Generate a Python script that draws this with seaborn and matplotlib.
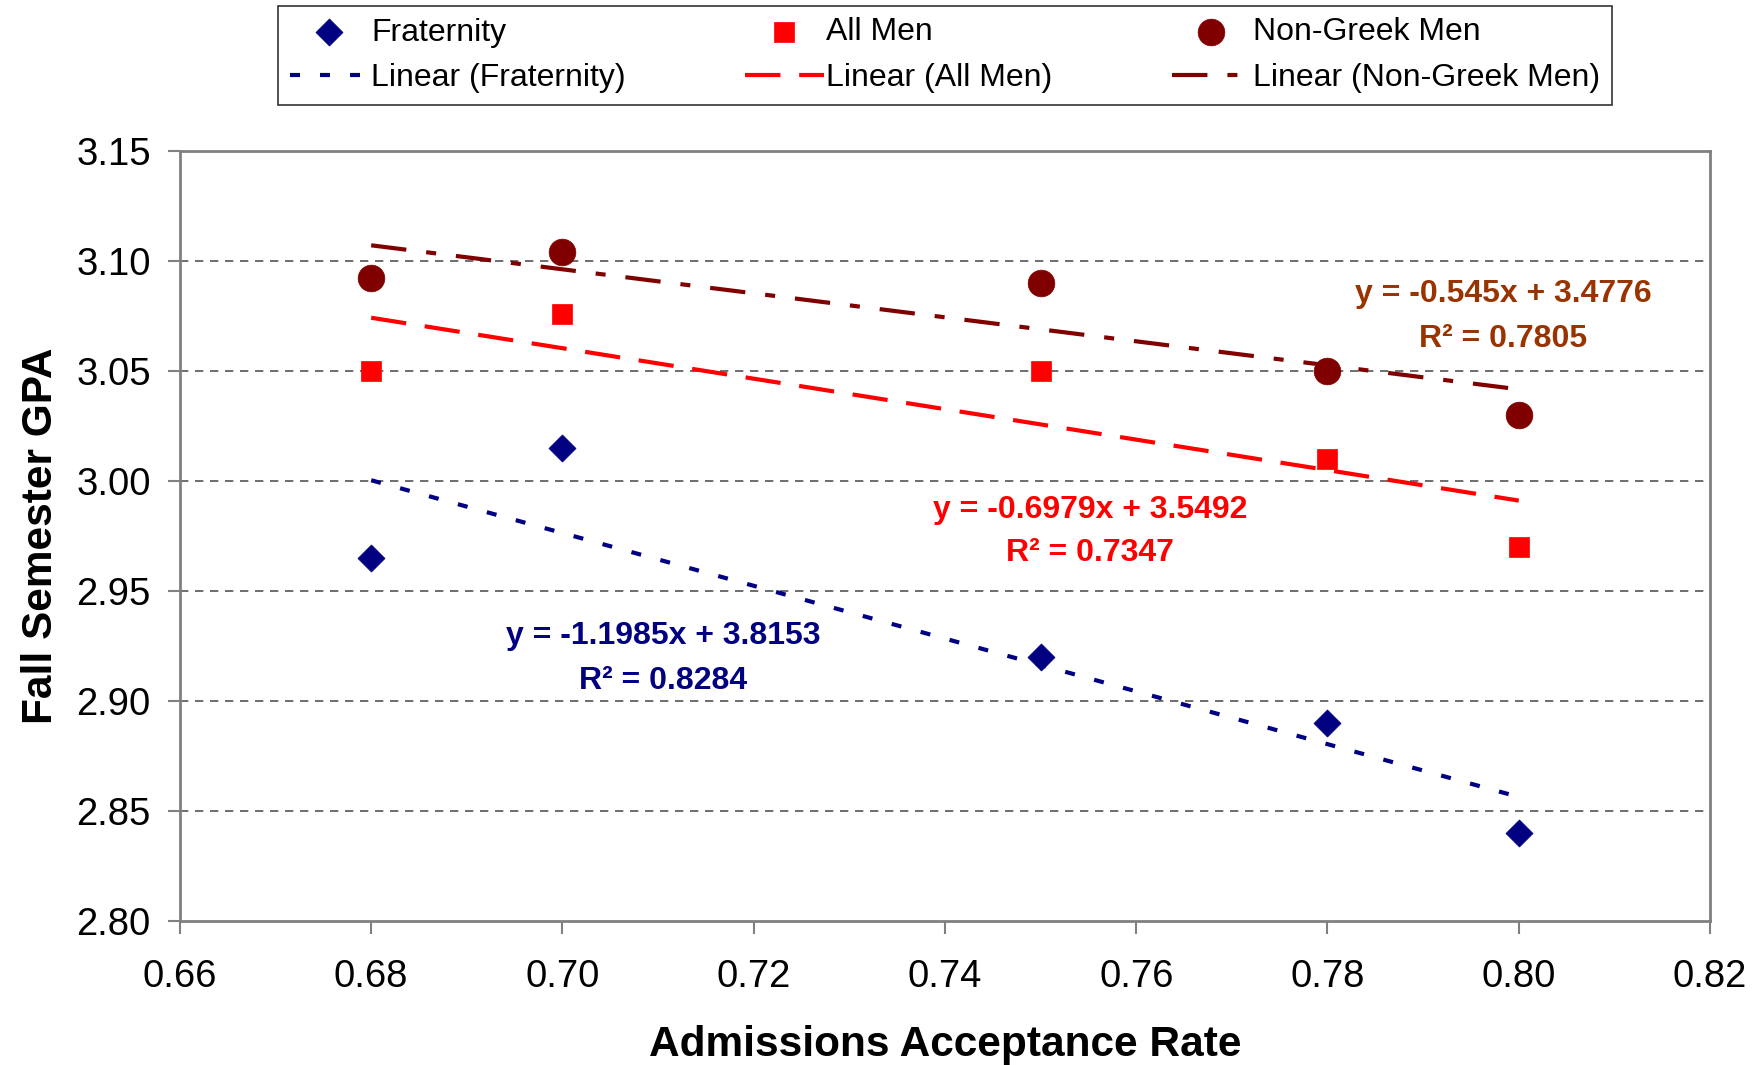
import numpy as np
import pandas as pd
import seaborn as sns
import matplotlib.pyplot as plt

# Acceptance rates and GPA
rates = [0.68, 0.70, 0.75, 0.78, 0.80]
fraternity = [2.965, 3.015, 2.92, 2.89, 2.84]
all_men = [3.05, 3.076, 3.05, 3.01, 2.97]
non_greek = [3.092, 3.104, 3.09, 3.05, 3.03]

groups = ['Fraternity', 'All Men', 'Non-Greek Men']
equations = ['y = -1.1985x + 3.8153', 'y = -0.6979x + 3.5492', 'y = -0.545x + 3.4776']
r_squared = ['R² = 0.8284', 'R² = 0.7347', 'R² = 0.7805']

df = pd.DataFrame({
    'rate': rates * 3,
    'gpa': fraternity + all_men + non_greek,
    'group': [g for g in groups for _ in rates],
})

sns.set_style('white')
plt.rcParams['font.family'] = ['Liberation Sans', 'DejaVu Sans']
plt.rcParams['text.color'] = 'black'
plt.rcParams['axes.labelcolor'] = 'black'
plt.rcParams['xtick.color'] = 'black'
plt.rcParams['ytick.color'] = 'black'

colors = {'Fraternity': '#000080', 'All Men': '#FF0000', 'Non-Greek Men': '#800000'}
text_colors = {'Fraternity': '#000080', 'All Men': '#FF0000', 'Non-Greek Men': '#993300'}
markers = {'Fraternity': 'D', 'All Men': 's', 'Non-Greek Men': 'o'}
sizes = {'Fraternity': 190, 'All Men': 210, 'Non-Greek Men': 370}
dashes = {'Fraternity': (2.4, 4.8), 'All Men': (8.5, 4.5), 'Non-Greek Men': (8.5, 4.8, 2.4, 4.8)}
# annotation anchors (data coords): x, equation line y, R2 line y
ann_pos = {'Fraternity': (0.7105, 2.9296, 2.9092),
           'All Men': (0.7552, 2.9867, 2.9673),
           'Non-Greek Men': (0.7984, 3.0847, 3.0643)}

fig = plt.figure(figsize=(17.62, 10.65), dpi=100)
ax = fig.add_axes([0.1021, 0.1349, 0.8684, 0.7237])

# horizontal grid
for yv in np.arange(2.85, 3.11, 0.05):
    ax.axhline(yv, color='#555555', lw=1.2, ls=(0, (5, 4)), zorder=0)

point_handles = []
line_handles = []
for g in groups:
    sub = df[df['group'] == g]
    sns.regplot(data=sub, x='rate', y='gpa', ax=ax, scatter=False, ci=None,
                line_kws=dict(color=colors[g], lw=3, dashes=dashes[g], zorder=2))
    line_handles.append(ax.lines[-1])
    sns.scatterplot(data=sub, x='rate', y='gpa', ax=ax, marker=markers[g],
                    s=sizes[g], color=colors[g], edgecolor=colors[g], linewidth=0.5,
                    zorder=3, legend=False)
    point_handles.append(ax.collections[-1])

for g, eq, r2 in zip(groups, equations, r_squared):
    x, y1, y2 = ann_pos[g]
    ax.text(x, y1, eq, color=text_colors[g], fontsize=23, fontweight='bold',
            ha='center', va='center')
    ax.text(x, y2, r2, color=text_colors[g], fontsize=23, fontweight='bold',
            ha='center', va='center')

xt = np.arange(0.66, 0.821, 0.02)
yt = np.arange(2.80, 3.151, 0.05)
ax.set_xlim(0.66, 0.82)
ax.set_ylim(2.80, 3.15)
ax.set_xticks(xt)
ax.set_yticks(yt)
ax.set_xticklabels([f'{v:.2f}' for v in xt])
ax.set_yticklabels([f'{v:.2f}' for v in yt])
ax.tick_params(axis='both', labelsize=27.5, direction='out', length=9, width=1.5,
               color='#808080', left=True, bottom=True)
ax.tick_params(axis='x', pad=18)
ax.tick_params(axis='y', pad=12)
for sp in ax.spines.values():
    sp.set_color('#808080')
    sp.set_linewidth(2)

ax.set_xlabel('Admissions Acceptance Rate', fontsize=30.5, fontweight='bold')
ax.set_ylabel('Fall Semester GPA', fontsize=30.5, fontweight='bold')
ax.xaxis.set_label_coords(0.5, -0.135)
ax.yaxis.set_label_coords(-0.078, 0.5)

labels = []
handles = []
for g, ph, lh in zip(groups, point_handles, line_handles):
    handles += [ph, lh]
    labels += [g, f'Linear ({g})']

leg = fig.legend(handles, labels, ncol=3, loc='upper left', mode='expand',
                 bbox_to_anchor=(278 / 1762, 1 - 98 / 1065, (1612 - 278) / 1762, 92 / 1065),
                 fontsize=23, frameon=True, fancybox=False, handlelength=2.47,
                 handletextpad=0.08, labelspacing=0.5, borderpad=0.36,
                 borderaxespad=0, scatterpoints=1)
leg.get_frame().set_edgecolor('black')
leg.get_frame().set_linewidth(1.2)

fig.savefig('out.png', dpi=100)
